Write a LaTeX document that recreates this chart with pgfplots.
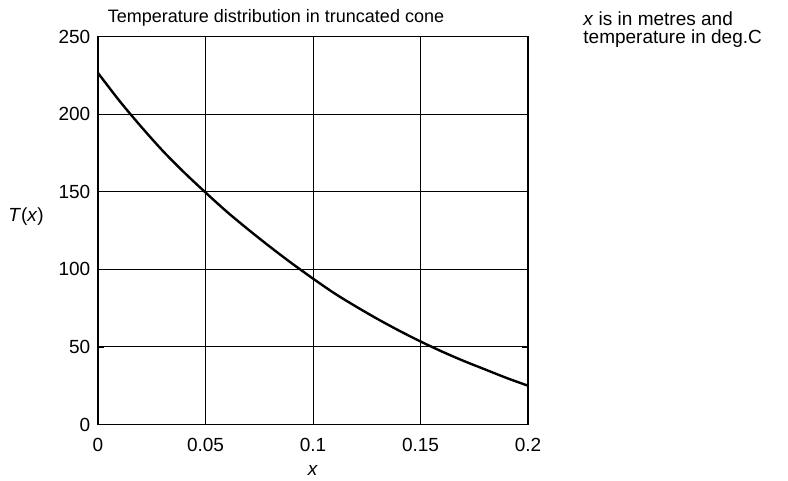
\documentclass[border=0pt]{standalone}
\usepackage{pgfplots}
\pgfplotsset{compat=1.18}
\usepackage{fontspec}
\setmainfont{Liberation Sans}

\pgfplotstableread{
x     T
0.00  226.5
0.01  208.5
0.02  192.0
0.03  176.5
0.04  162.5
0.05  149.5
0.06  137.0
0.07  125.5
0.08  114.5
0.09  104.0
0.10  94.0
0.11  84.5
0.12  76.0
0.13  68.0
0.14  60.5
0.15  53.5
0.16  47.0
0.17  41.0
0.18  35.5
0.19  30.0
0.20  25.0
}\conetemp

\begin{document}
\fontsize{9.5}{11}\selectfont
\begin{tikzpicture}
\begin{axis}[
    at={(49pt,28.25pt)}, anchor=south west,
    scale only axis,
    width=215pt, height=194pt,
    xmin=0, xmax=0.2, ymin=0, ymax=250,
    xtick={0,0.05,0.1,0.15,0.2},
    xticklabels={0,0.05,0.1,0.15,0.2},
    ytick={0,50,100,150,200,250},
    grid=major,
    major grid style={black, line width=0.5pt},
    axis line style={black, line width=0.7pt},
    tick style={black},
    tick align=inside,
    major tick length=3pt,
    ticklabel style={font=\fontsize{9.5}{11}\selectfont},
    /pgf/number format/assume math mode=true,
    xticklabel style={yshift=-3.5pt},
    yticklabel style={xshift=-0.5pt},
  ]
  \addplot [black, line width=1.2pt, smooth] table [x=x, y=T] {\conetemp};
\end{axis}
\node[anchor=base, font=\fontsize{9}{11}\selectfont] at (138pt,229pt) {Temperature distribution in truncated cone};
\node at (13pt,132pt) {\textit{T}(\textit{x})};
\node at (156.5pt,5.5pt) {\textit{x}};
\node[anchor=base west, inner sep=0pt] at (291.5pt,227.5pt) {\textit{x} is in metres and};
\node[anchor=base west, inner sep=0pt] at (291.5pt,218.5pt) {temperature in deg.C};
\pgfresetboundingbox
\path[use as bounding box] (0,0) rectangle (394pt,240.5pt);
\end{tikzpicture}
\end{document}
